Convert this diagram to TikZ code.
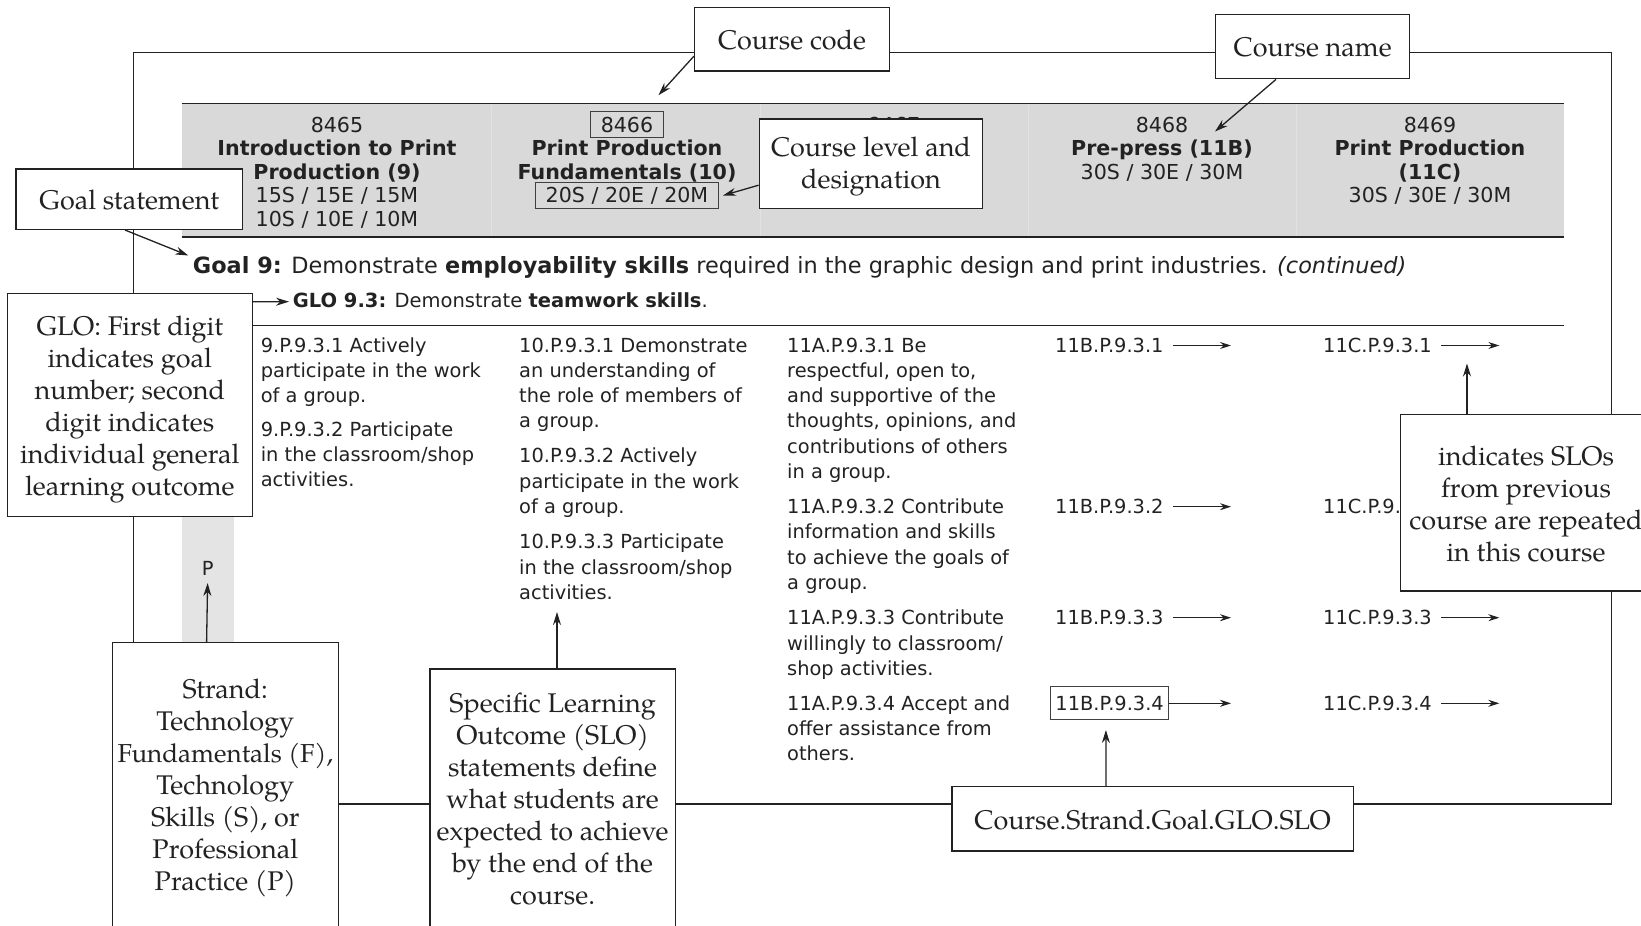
\documentclass[tikz,border=0pt]{standalone}
\usepackage{fontspec}
\setmainfont{DejaVu Sans}
\newfontfamily\callfont{texgyrepagella-regular.otf}
\usetikzlibrary{arrows.meta}
\pgfdeclarelayer{back}
\pgfdeclarelayer{mid}
\pgfsetlayers{back,mid,main}
\definecolor{hdrgray}{HTML}{D9D9D9}
\definecolor{stripgray}{HTML}{E4E4E4}
\definecolor{ink}{HTML}{222222}
\newcommand{\hdrbox}[1]{{\setlength{\fboxrule}{1pt}\setlength{\fboxsep}{0pt}\color{black!75}\fbox{\color{ink}\rule[-5pt]{0pt}{25pt}\hspace{10pt}#1\hspace{10pt}}}}
\begin{document}
\begin{tikzpicture}[x=1pt,y=-1pt,
  callbox/.style={draw=ink, line width=1.4pt, fill=white, inner sep=0pt},
  calltext/.style={inner sep=0pt, align=center, text=ink,
    font=\callfont\fontsize{27}{32}\selectfont},
  hdr/.style={align=center, anchor=base, inner sep=0pt, text=ink,
    font={\fontsize{20.6}{23.5}\selectfont\lineskiplimit=-30pt}},
  body/.style={align=left, anchor=base west, inner sep=0pt, text=ink,
    font=\fontsize{19.4}{25.3}\selectfont},
  code/.style={anchor=west, inner sep=0pt, text height=14pt, text depth=0pt, text=ink,
    font=\fontsize{19.4}{25.3}\selectfont},
  callarrow/.style={-{Stealth[length=13pt,width=8pt]}, line width=1.3pt, draw=ink},
  tarrow/.style={-{Stealth[length=11pt,width=7pt]}, line width=1pt, draw=ink},
  frameline/.style={line width=1.3pt, draw=ink}]
\useasboundingbox (0,0) rectangle (1641,926);

% ---------- table background ----------
\begin{pgfonlayer}{back}
  \fill[hdrgray] (181.5,103.5) rectangle (1563.5,237);
  \foreach \sx in {491.6,760,1028,1296}
    \draw[white!25!hdrgray, line width=0.6pt] (\sx,104.5) -- (\sx,236);
  \fill[stripgray] (181.5,326.5) rectangle (234,929);
  \draw[ink, line width=1.6pt] (181.5,103.5) -- (1563.5,103.5);
  \draw[ink, line width=1.6pt] (181.5,237) -- (1563.5,237);
  \draw[ink, line width=1.2pt] (181.5,325.7) -- (1563.5,325.7);
\end{pgfonlayer}

% ---------- header (base anchor = baseline of last line) ----------
\node[hdr] (h1) at (337,226) {8465\\\textbf{Introduction to Print}\\\textbf{Production (9)}\\15S / 15E / 15M\\10S / 10E / 10M};
\node[hdr] (h2) at (627,202.5) {\hdrbox{8466}\\\textbf{Print Production}\\\textbf{Fundamentals (10)}\\\hdrbox{20S / 20E / 20M}};
\node[hdr] (h3) at (894,132) {8467};
\node[hdr] (h4) at (1162,179) {8468\\\textbf{Pre-press (11B)}\\30S / 30E / 30M};
\node[hdr] (h5) at (1430,202.5) {8469\\\textbf{Print Production}\\\textbf{(11C)}\\30S / 30E / 30M};

% ---------- goal and GLO ----------
\node[anchor=base west, inner sep=0pt, text=ink, font=\fontsize{22.4}{26}\selectfont] (goalt) at (192.7,273.7)
  {\textbf{Goal 9:} Demonstrate \textbf{employability skills} required in the graphic design and print industries. \textit{(continued)}};
\node[anchor=base west, inner sep=0pt, text=ink, font=\fontsize{19.5}{24}\selectfont] (glot) at (292.7,307)
  {\textbf{GLO 9.3:} Demonstrate \textbf{teamwork skills}.};

% ---------- body (base anchor = baseline of last line) ----------
\node[body] (c1a) at (260.6,402.6) {9.P.9.3.1 Actively\\participate in the work\\of a group.};
\node[body] (c1b) at (260.6,486.9) {9.P.9.3.2 Participate\\in the classroom/shop\\activities.};
\node[body] (c2a) at (519,427.9) {10.P.9.3.1 Demonstrate\\an understanding of\\the role of members of\\a group.};
\node[body] (c2b) at (519,513.3) {10.P.9.3.2 Actively\\participate in the work\\of a group.};
\node[body] (c2c) at (519,599.3) {10.P.9.3.3 Participate\\in the classroom/shop\\activities.};
\node[body] (c3a) at (787,478.5) {11A.P.9.3.1 Be\\respectful, open to,\\and supportive of the\\thoughts, opinions, and\\contributions of others\\in a group.};
\node[body] (c3b) at (787,589.4) {11A.P.9.3.2 Contribute\\information and skills\\to achieve the goals of\\a group.};
\node[body] (c3c) at (787,675.3) {11A.P.9.3.3 Contribute\\willingly to classroom/\\shop activities.};
\node[body] (c3d) at (787,760.9) {11A.P.9.3.4 Accept and\\offer assistance from\\others.};

\coordinate (e4) at (1231,0);
\coordinate (e5) at (1499.3,0);
\node[code] (b1) at (1055,345.5) {11B.P.9.3.1};
\node[code] (b2) at (1055,506.7) {11B.P.9.3.2};
\node[code] (b3) at (1055,617.7) {11B.P.9.3.3};
\node[code, draw=black!75, line width=1pt, inner xsep=4.5pt, inner ysep=9.5pt] (b4) at (1050.4,703.3) {11B.P.9.3.4};
\node[code] (k1) at (1323,345.5) {11C.P.9.3.1};
\node[code] (k2) at (1323,506.7) {11C.P.9.3.2};
\node[code] (k3) at (1323,617.7) {11C.P.9.3.3};
\node[code] (k4) at (1323,703.3) {11C.P.9.3.4};
\foreach \n in {b1,b2,b3}
  \draw[tarrow] ([xshift=9pt]\n.east) -- (\n.east -| e4);
\draw[tarrow] (b4.east) -- (b4.east -| e4);
\foreach \n in {k1,k2,k3,k4}
  \draw[tarrow] ([xshift=9pt]\n.east) -- (\n.east -| e5);

\node[anchor=center, inner sep=0pt, text height=13.9pt, text depth=0pt, text=ink, font=\fontsize{19.4}{24}\selectfont] (pstr) at (207.6,569) {P};

% ---------- callout boxes ----------
\node[callbox, minimum width=195pt, minimum height=63.7pt] (ccode) at (792.1,39.2) {};
\node[callbox, minimum width=194pt, minimum height=64pt] (cname) at (1312.7,46.7) {};
\node[callbox, minimum width=223.4pt, minimum height=89.3pt] (clevel) at (871,163.7) {};
\node[callbox, minimum width=226.7pt, minimum height=60.3pt] (goal) at (129.35,199.2) {};
\node[callbox, minimum width=244.7pt, minimum height=223.3pt] (glo) at (129.85,405.1) {};
\node[callbox, minimum width=226.2pt, minimum height=286.6pt] (strand) at (225.3,785.8) {};
\node[callbox, minimum width=245.2pt, minimum height=260pt] (slo) at (552.6,799) {};
\node[callbox, minimum width=401.2pt, minimum height=64.3pt] (csg) at (1152.6,818.9) {};
\node[callbox, minimum width=251pt, minimum height=176.7pt] (ind) at (1526,502.7) {};

% ---------- callout texts ----------
\node[calltext] (ccodet) at (792.1,40.2) {Course code};
\node[calltext] (cnamet) at (1312.7,46.7) {Course name};
\node[calltext] (clevelt) at (871,166.8) {Course level and\\designation};
\node[calltext] (goalst) at (129.35,200.2) {Goal statement};
\node[calltext] (glotx) at (129.85,409.3) {GLO: First digit\\indicates goal\\number; second\\digit indicates\\individual general\\learning outcome};
\node[calltext] (strandt) at (225.3,787.9) {Strand:\\Technology\\{\fontsize{26}{32}\selectfont Fundamentals (F),}\\Technology\\Skills (S), or\\Professional\\Practice (P)};
\node[calltext] (slot) at (552.6,799) {Specific Learning\\Outcome (SLO)\\statements define\\what students are\\expected to achieve\\by the end of the\\course.};
\node[calltext] (csgt) at (1152.6,820) {Course.Strand.Goal.GLO.SLO};
\node[calltext] (indt) at (1526,503.7) {indicates SLOs\\from previous\\course are repeated\\in this course};

% ---------- frame connectors ----------
\coordinate (tl) at (133.3,52.3);
\coordinate (tr) at (1611.7,52.3);
\coordinate (br) at (1611.7,804);
\begin{pgfonlayer}{mid}
  \draw[frameline] (strand.north -| tl) -- (tl) -- (tl -| ccode.west);
  \draw[frameline] (tl -| ccode.east) -- (tl -| cname.west);
  \draw[frameline] (tl -| cname.east) -- (tr) -- (br) -- (br -| csg.east);
  \draw[frameline] (br -| csg.west) -- (br -| slo.east);
  \draw[frameline] (br -| slo.west) -- (br -| strand.east);
\end{pgfonlayer}

% ---------- callout arrows ----------
\coordinate (ccodeT) at (658.5,95.2);
\coordinate (cnameT) at (1215,131.5);
\coordinate (clevelT) at (723,195.5);
\coordinate (goalT) at (188.3,255.5);
\coordinate (gloT) at (289,301.7);
\coordinate (strandT) at (207.6,583);
\coordinate (sloT) at (557,612);
\coordinate (csgT) at (1105.9,730);
\coordinate (indT) at (1467,363.5);
\draw[callarrow] ([yshift=-17pt]ccode.west) -- (ccodeT);
\draw[callarrow] ([xshift=-36.7pt]cname.south) -- (cnameT);
\draw[callarrow] ([yshift=-21.5pt]clevel.west) -- (clevelT);
\draw[callarrow] ([xshift=-4.3pt]goal.south) -- (goalT);
\draw[callarrow] ([yshift=103.4pt]glo.east) -- (gloT);
\draw[callarrow] ([xshift=-18.7pt]strand.north) -- (strandT);
\draw[callarrow] ([xshift=4.4pt]slo.north) -- (sloT);
\draw[callarrow] ([xshift=-46.7pt]csg.north) -- (csgT);
\draw[callarrow] ([xshift=-59pt]ind.north) -- (indT);
\end{tikzpicture}
\end{document}
